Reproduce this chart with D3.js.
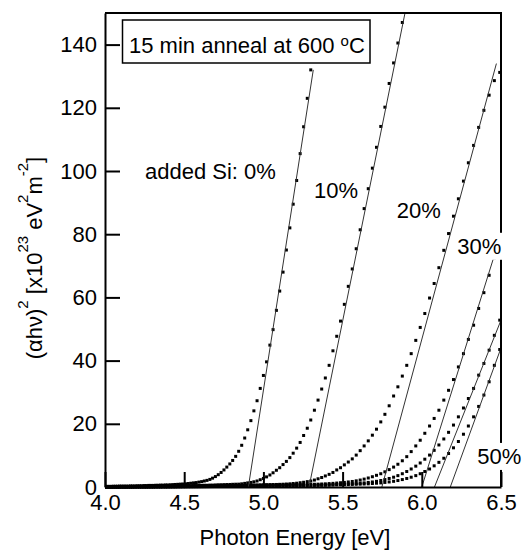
<!DOCTYPE html>
<html>
<head>
<meta charset="utf-8">
<script src="https://cdn.jsdelivr.net/npm/d3@7"></script>
<style>
  body { margin: 0; background: #fff; }
</style>
</head>
<body>
<div id="absorption_edge"></div>
<script>

// photon energy of every measured point (eV), shared by all series
const photonEnergy = [
	4.000, 4.013, 4.026, 4.039, 4.052, 4.066, 4.079, 4.092, 4.106, 4.120,
	4.133, 4.147, 4.161, 4.175, 4.189, 4.203, 4.218, 4.232, 4.247, 4.261,
	4.276, 4.291, 4.306, 4.321, 4.336, 4.351, 4.366, 4.382, 4.397, 4.413,
	4.429, 4.444, 4.460, 4.477, 4.493, 4.509, 4.526, 4.542, 4.559, 4.576,
	4.593, 4.610, 4.627, 4.644, 4.662, 4.679, 4.697, 4.715, 4.733, 4.751,
	4.769, 4.788, 4.806, 4.825, 4.844, 4.863, 4.882, 4.901, 4.921, 4.940,
	4.960, 4.980, 5.000, 5.020, 5.041, 5.061, 5.082, 5.103, 5.124, 5.145,
	5.167, 5.188, 5.210, 5.232, 5.254, 5.277, 5.299, 5.322, 5.345, 5.368,
	5.391, 5.415, 5.439, 5.463, 5.487, 5.511, 5.536, 5.561, 5.586, 5.611,
	5.636, 5.662, 5.688, 5.714, 5.741, 5.767, 5.794, 5.822, 5.849, 5.877,
	5.905, 5.933, 5.962, 5.990, 6.019, 6.049, 6.078, 6.108, 6.139, 6.169,
	6.200, 6.231, 6.263, 6.294, 6.327, 6.359, 6.392, 6.425, 6.458, 6.492
];

// (alpha h nu)^2 in 1e23 eV^2 m^-2, one array per added Si content
const si0 = [
	0.2, 0.2, 0.2, 0.2, 0.25, 0.25, 0.25, 0.3, 0.3, 0.3,
	0.3, 0.3, 0.35, 0.35, 0.35, 0.4, 0.4, 0.4, 0.45, 0.45,
	0.5, 0.5, 0.5, 0.55, 0.55, 0.6, 0.6, 0.65, 0.65, 0.7,
	0.75, 0.8, 0.85, 0.9, 0.95, 1.0, 1.1, 1.2, 1.3, 1.4,
	1.55, 1.7, 1.9, 2.1, 2.4, 2.8, 3.3, 3.9, 4.6, 5.4,
	6.3, 7.3, 8.4, 9.7, 11.3, 13.2, 15.5, 18.1, 21.0, 24.1,
	27.3, 31.2, 35.3, 39.6, 44.9, 49.8, 55.9, 62, 68, 75,
	82, 89.5, 97, 105.5, 114, 123, 132
];

const si10 = [
	0.1, 0.1, 0.1, 0.1, 0.1, 0.1, 0.1, 0.1, 0.1, 0.1,
	0.1, 0.1, 0.15, 0.15, 0.15, 0.15, 0.15, 0.15, 0.2, 0.2,
	0.2, 0.2, 0.2, 0.2, 0.25, 0.25, 0.25, 0.25, 0.3, 0.3,
	0.3, 0.3, 0.35, 0.35, 0.35, 0.4, 0.4, 0.4, 0.45, 0.45,
	0.5, 0.5, 0.55, 0.55, 0.6, 0.6, 0.65, 0.7, 0.72, 0.75,
	0.78, 0.8, 0.85, 0.88, 0.9, 1.0, 1.15, 1.3, 1.45, 1.65,
	1.9, 2.3, 2.7, 3.2, 3.8, 4.5, 5.3, 6.1, 7.1, 8.1,
	9.3, 10.7, 12.3, 14.1, 16.3, 18.6, 21.2, 24.3, 27.5, 31,
	34.5, 38.5, 43.1, 47.7, 52.5, 57.8, 63.5, 69, 75.4, 81.4,
	88.1, 94.4, 100.9, 107.5, 114.1, 120.2, 127.7, 134.2, 140.5, 147,
	153
];

const si20 = [
	0.05, 0.05, 0.05, 0.05, 0.05, 0.05, 0.05, 0.05, 0.05, 0.05,
	0.05, 0.05, 0.05, 0.05, 0.1, 0.1, 0.1, 0.1, 0.1, 0.1,
	0.1, 0.1, 0.1, 0.15, 0.15, 0.15, 0.15, 0.15, 0.15, 0.2,
	0.2, 0.2, 0.2, 0.2, 0.25, 0.25, 0.25, 0.25, 0.3, 0.3,
	0.3, 0.31, 0.32, 0.33, 0.34, 0.36, 0.38, 0.4, 0.42, 0.44,
	0.46, 0.47, 0.48, 0.5, 0.51, 0.52, 0.54, 0.56, 0.58, 0.6,
	0.62, 0.65, 0.68, 0.71, 0.74, 0.77, 0.8, 0.84, 0.88, 0.94,
	1.0, 1.1, 1.2, 1.35, 1.5, 1.7, 1.9, 2.2, 2.6, 3.0,
	3.5, 4.0, 4.6, 5.4, 6.1, 7.0, 7.9, 8.9, 10.1, 11.5,
	13.0, 14.6, 16.4, 18.3, 20.6, 23.0, 25.7, 28.8, 31.7, 35.1,
	38.5, 42.2, 46.4, 50.5, 54.9, 59.8, 64.4, 69.4, 74.9, 80.2,
	85.7, 91.2, 96.8, 102.6, 108.1, 113.8, 119.2, 124, 128.6, 131.2
];

const si30 = [
	0.05, 0.05, 0.05, 0.05, 0.05, 0.05, 0.05, 0.05, 0.05, 0.05,
	0.05, 0.05, 0.05, 0.05, 0.08, 0.08, 0.08, 0.08, 0.08, 0.08,
	0.08, 0.08, 0.1, 0.1, 0.1, 0.1, 0.12, 0.12, 0.12, 0.14,
	0.14, 0.15, 0.15, 0.16, 0.17, 0.18, 0.19, 0.2, 0.21, 0.22,
	0.23, 0.24, 0.25, 0.26, 0.27, 0.28, 0.3, 0.31, 0.32, 0.34,
	0.35, 0.37, 0.39, 0.41, 0.43, 0.45, 0.47, 0.5, 0.52, 0.55,
	0.57, 0.6, 0.62, 0.65, 0.67, 0.7, 0.72, 0.75, 0.77, 0.79,
	0.8, 0.81, 0.82, 0.83, 0.84, 0.85, 0.86, 0.87, 0.9, 0.95,
	1.0, 1.08, 1.15, 1.25, 1.35, 1.45, 1.6, 1.75, 1.95, 2.2,
	2.5, 2.85, 3.25, 3.7, 4.2, 4.8, 5.5, 6.3, 7.2, 8.3,
	9.6, 11.2, 13.0, 14.8, 17.0, 19.3, 21.7, 24.3, 27.5, 30.6,
	34.0, 38.0, 42.2, 46.7, 51.2, 56.5, 61.5, 67, 72.5, 78
];

const si40 = [
	0.03, 0.03, 0.03, 0.03, 0.03, 0.03, 0.03, 0.03, 0.03, 0.03,
	0.04, 0.04, 0.04, 0.04, 0.04, 0.04, 0.04, 0.04, 0.04, 0.04,
	0.05, 0.05, 0.06, 0.06, 0.07, 0.07, 0.08, 0.08, 0.09, 0.09,
	0.1, 0.1, 0.11, 0.12, 0.13, 0.14, 0.15, 0.16, 0.17, 0.18,
	0.19, 0.2, 0.21, 0.22, 0.23, 0.24, 0.25, 0.26, 0.27, 0.28,
	0.29, 0.3, 0.31, 0.32, 0.33, 0.34, 0.35, 0.36, 0.37, 0.38,
	0.39, 0.4, 0.41, 0.42, 0.43, 0.44, 0.45, 0.46, 0.47, 0.48,
	0.49, 0.5, 0.51, 0.52, 0.53, 0.54, 0.56, 0.58, 0.6, 0.62,
	0.65, 0.7, 0.75, 0.8, 0.85, 0.9, 0.95, 1.0, 1.1, 1.2,
	1.3, 1.45, 1.6, 1.8, 2.05, 2.35, 2.7, 3.1, 3.6, 4.2,
	4.9, 5.7, 6.6, 7.6, 8.8, 10.1, 11.6, 13.3, 15.2, 17.3,
	19.6, 22.2, 25.0, 28.0, 31.2, 35.4, 39.1, 43.3, 48, 52.8
];

const si50 = [
	0.02, 0.02, 0.02, 0.02, 0.02, 0.02, 0.02, 0.02, 0.02, 0.02,
	0.03, 0.03, 0.03, 0.03, 0.03, 0.03, 0.03, 0.03, 0.03, 0.03,
	0.04, 0.04, 0.04, 0.04, 0.04, 0.04, 0.04, 0.04, 0.04, 0.04,
	0.05, 0.05, 0.06, 0.06, 0.07, 0.07, 0.08, 0.08, 0.09, 0.09,
	0.1, 0.11, 0.12, 0.13, 0.14, 0.15, 0.16, 0.17, 0.18, 0.19,
	0.2, 0.21, 0.22, 0.23, 0.24, 0.25, 0.26, 0.27, 0.28, 0.29,
	0.3, 0.31, 0.32, 0.33, 0.34, 0.35, 0.36, 0.37, 0.38, 0.39,
	0.4, 0.41, 0.42, 0.43, 0.44, 0.46, 0.48, 0.5, 0.52, 0.54,
	0.55, 0.58, 0.62, 0.66, 0.7, 0.74, 0.78, 0.82, 0.86, 0.9,
	0.95, 1.0, 1.1, 1.2, 1.3, 1.45, 1.6, 1.8, 2.05, 2.35,
	2.7, 3.1, 3.6, 4.2, 4.9, 5.7, 6.7, 7.8, 9.1, 10.6,
	12.4, 14.4, 16.7, 19.3, 22.2, 25.5, 29.1, 33.3, 38.5, 43.5
];

// linear fits of the absorption edge: [start, end] as [energy, value]
const fit0 = [[4.905, 0], [5.315, 132]];
const fit10 = [[5.288, 0], [5.894, 150]];
const fit20 = [[5.748, 0], [6.471, 134]];
const fit30 = [[6.0, 0], [6.5, 80]];
const fit40 = [[6.08, 0], [6.5, 52.8]];
const fit50 = [[6.18, 0], [6.5, 44]];

const xTicks = [4.0, 4.5, 5.0, 5.5, 6.0, 6.5];
const yTicks = [0, 20, 40, 60, 80, 100, 120, 140];

const allSeries = [si0, si10, si20, si30, si40, si50];
const allFits = [fit0, fit10, fit20, fit30, fit40, fit50];

// sizes and fonts
const totalWidth = 528;
const h = 558;
const margin = {top: 13, right: 27, bottom: 71, left: 105};
const fontFamily = "'Liberation Sans', Arial, Helvetica, sans-serif";
const fontSize = "22px";

const x = d3.scaleLinear()
	.domain([4.0, 6.5])
	.range([margin.left, totalWidth - margin.right]);

const y = d3.scaleLinear()
	.domain([0, 150])
	.range([h - margin.bottom, margin.top]);

// create a SVG element
const svg = d3.select("#absorption_edge")
	.append("svg")
	.attr("width", totalWidth)
	.attr("height", h)
	.style("font-family", fontFamily);

// keep marks inside the frame (top edge cuts the 10% series)
svg.append("clipPath")
	.attr("id", "plotClip")
	.append("rect")
		.attr("x", margin.left)
		.attr("y", margin.top)
		.attr("width", totalWidth - margin.right - margin.left + 4)
		.attr("height", h - margin.bottom - margin.top + 4);

const plot = svg.append("g").attr("clip-path", "url(#plotClip)");

// measured points, small black squares
allSeries.forEach(function(values) {
	plot.append("g")
		.selectAll("rect")
		.data(values.map((v, i) => [photonEnergy[i], v]))
		.join("rect")
			.attr("x", d => x(d[0]) - 1.5)
			.attr("y", d => y(d[1]) - 1.5)
			.attr("width", 3)
			.attr("height", 3)
			.attr("fill", "black");
});

// fitted lines
const line = d3.line().x(d => x(d[0])).y(d => y(d[1]));
plot.append("g")
	.selectAll("path")
	.data(allFits)
	.join("path")
		.attr("d", line)
		.attr("fill", "none")
		.attr("stroke", "#333")
		.attr("stroke-width", 1);

// axes, ticks pointing inside
const axisX = svg.append("g")
	.attr("transform", `translate(0,${h - margin.bottom})`)
	.call(d3.axisBottom(x)
		.tickValues(xTicks)
		.tickFormat(d3.format(".1f"))
		.tickSizeInner(-15)
		.tickSizeOuter(0)
		.tickPadding(7));

const axisY = svg.append("g")
	.attr("transform", `translate(${margin.left},0)`)
	.call(d3.axisLeft(y)
		.tickValues(yTicks)
		.tickSizeInner(-15)
		.tickSizeOuter(0)
		.tickPadding(8));

[axisX, axisY].forEach(function(g) {
	g.selectAll("path, line").attr("stroke", "black").attr("stroke-width", 2);
	g.selectAll("text")
		.attr("fill", "black")
		.style("font-family", fontFamily)
		.style("font-size", fontSize);
});

// top and right sides of the frame
svg.append("path")
	.attr("d", `M${margin.left},${margin.top}H${totalWidth - margin.right}V${h - margin.bottom}`)
	.attr("fill", "none")
	.attr("stroke", "black")
	.attr("stroke-width", 2);

// text label for the x axis
svg.append("text")
	.attr("x", 295)
	.attr("y", 545)
	.style("text-anchor", "middle")
	.style("font-size", fontSize)
	.text("Photon Energy [eV]");

// text label for the y axis
const yTitle = svg.append("text")
	.attr("transform", "translate(42,258) rotate(-90)")
	.style("text-anchor", "middle")
	.style("font-size", fontSize);
yTitle.append("tspan").text("(\u03b1h\u03bd)");
yTitle.append("tspan").attr("dy", -14).style("font-size", "15px").text("2");
yTitle.append("tspan").attr("dy", 14).text(" [x10");
yTitle.append("tspan").attr("dy", -14).style("font-size", "15px").text("23");
yTitle.append("tspan").attr("dy", 14).text(" eV");
yTitle.append("tspan").attr("dy", -14).style("font-size", "15px").text("2");
yTitle.append("tspan").attr("dy", 14).text("m");
yTitle.append("tspan").attr("dy", -14).style("font-size", "15px").text("-2");
yTitle.append("tspan").attr("dy", 14).text("]");

// opaque labels for each series
const seriesLabels = svg.append("g");
function addLabel(text, energy, value) {
	const t = seriesLabels.append("text")
		.attr("x", x(energy))
		.attr("y", y(value))
		.style("font-size", fontSize)
		.text(text);
	const b = t.node().getBBox();
	seriesLabels.insert("rect", () => t.node())
		.attr("x", b.x - 2)
		.attr("y", b.y - 1)
		.attr("width", b.width + 4)
		.attr("height", b.height + 2)
		.attr("fill", "white");
}
addLabel("added Si: 0%", 4.2525, 97.6);
addLabel("10%", 5.319, 91.6);
addLabel("20%", 5.842, 85.0);
addLabel("30%", 6.224, 73.8);
addLabel("50%", 6.350, 7.3);

// annealing note in a box
svg.append("rect")
	.attr("x", 122.5)
	.attr("y", 20)
	.attr("width", 247.5)
	.attr("height", 43)
	.attr("fill", "white")
	.attr("stroke", "black")
	.attr("stroke-width", 1.5);

const note = svg.append("text")
	.attr("x", 129)
	.attr("y", 53)
	.style("font-size", fontSize);
note.append("tspan").text("15 min anneal at 600 ");
note.append("tspan").attr("dy", -7).style("font-size", "15px").text("o");
note.append("tspan").attr("dy", 7).text("C");

</script>
</body>
</html>
